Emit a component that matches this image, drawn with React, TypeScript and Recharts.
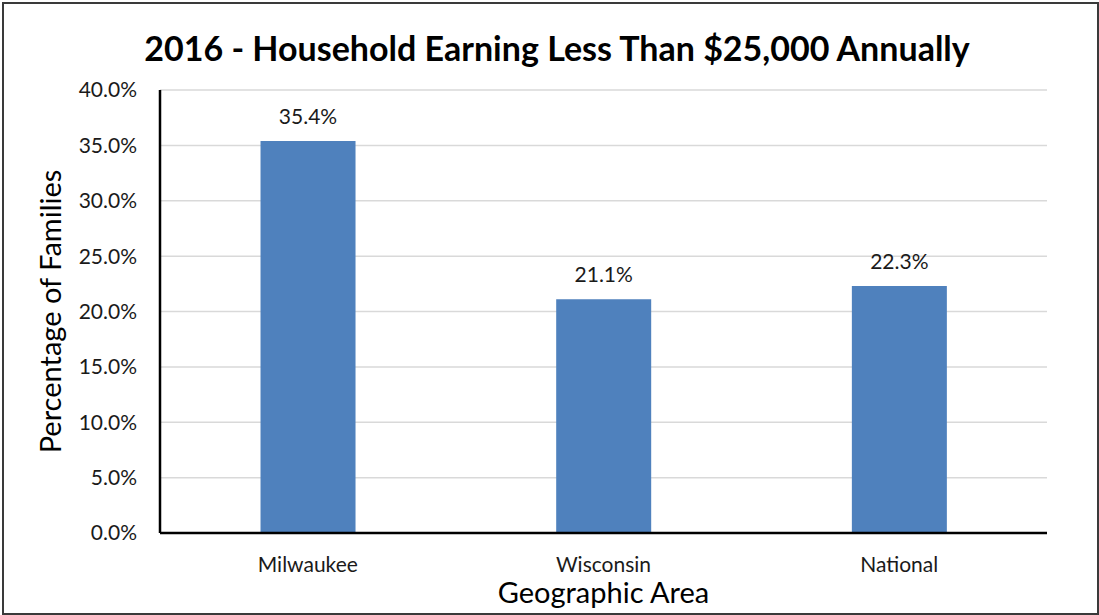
import React from "react";
import { BarChart, Bar, XAxis, YAxis, CartesianGrid, LabelList } from "recharts";

const areas = ["Milwaukee", "Wisconsin", "National"];
const shareUnder25k = [35.4, 21.1, 22.3];
const yTicks = [0, 5, 10, 15, 20, 25, 30, 35, 40];

const data = areas.map((area, i) => ({ area, value: shareUnder25k[i] }));

const FONT = "Lato, 'Open Sans', sans-serif";

export default function App() {
  return (
    <div style={{ position: "absolute", left: 0, top: 0, width: 1099, height: 615, background: "#fff", fontFamily: FONT }}>
      <div
        style={{
          position: "absolute",
          left: 2,
          top: 2,
          width: 1093,
          height: 609,
          border: "2px solid #3a3a3a",
          boxSizing: "content-box",
          pointerEvents: "none",
        }}
      />
      <div
        style={{
          position: "absolute",
          left: 0,
          top: 26,
          width: 1114,
          textAlign: "center",
          fontSize: 34,
          fontWeight: 700,
          color: "#000",
          lineHeight: "44px",
        }}
      >
        2016 - Household Earning Less Than $25,000 Annually
      </div>
      <BarChart
        width={1099}
        height={615}
        data={data}
        margin={{ top: 90, right: 52, bottom: 0, left: 0 }}
        barCategoryGap="34%"
      >
        <CartesianGrid vertical={false} stroke="#d9d9d9" strokeWidth={1.5} />
        <XAxis
          dataKey="area"
          height={82}
          tickLine={false}
          axisLine={{ stroke: "#000", strokeWidth: 2.5 }}
          tick={{ fill: "#1a1a1a", fontSize: 21, fontFamily: FONT }}
          tickMargin={18}
          label={{ value: "Geographic Area", position: "insideBottom", offset: 12, fontSize: 29, fill: "#000", fontFamily: FONT }}
        />
        <YAxis
          width={160}
          domain={[0, 40]}
          ticks={yTicks}
          interval={0}
          tickFormatter={(v: number) => `${v.toFixed(1)}%`}
          tickLine={false}
          axisLine={{ stroke: "#000", strokeWidth: 2.5 }}
          tick={{ fill: "#1a1a1a", fontSize: 21, fontFamily: FONT }}
          tickMargin={17}
          label={{ value: "Percentage of Families", angle: -90, position: "insideLeft", offset: 51, fontSize: 29, fill: "#000", fontFamily: FONT, style: { textAnchor: "middle" } }}
        />
        <Bar dataKey="value" fill="#4f81bd" isAnimationActive={false}>
          <LabelList
            dataKey="value"
            position="top"
            offset={17}
            formatter={(v: any) => `${Number(v).toFixed(1)}%`}
            style={{ fill: "#1a1a1a", fontSize: 21, fontFamily: FONT }}
          />
        </Bar>
      </BarChart>
    </div>
  );
}
